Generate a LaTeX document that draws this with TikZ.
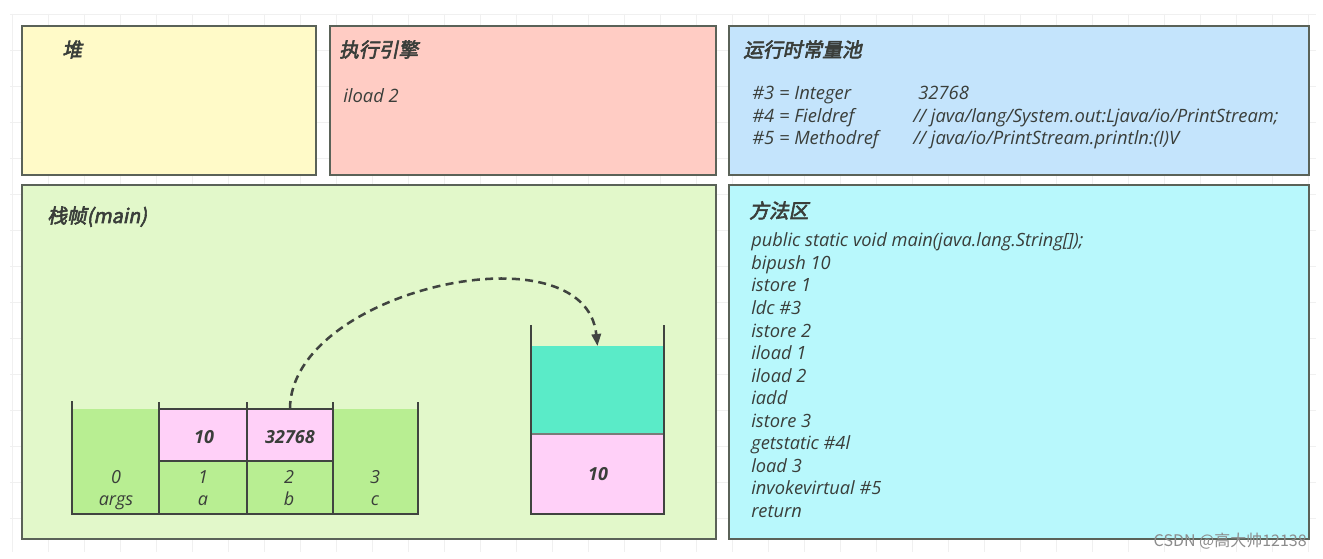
\documentclass[tikz,border=0pt]{standalone}
\usepackage{fontspec}
\setmainfont{Open Sans}
\newfontfamily\cjk[FakeSlant=0.2,FakeBold=3]{Noto Sans CJK SC}
\newfontfamily\wmfont{Noto Sans CJK SC}
\usetikzlibrary{arrows.meta}
\definecolor{heapc}{HTML}{FFFAC8}
\definecolor{engc}{HTML}{FFCCC4}
\definecolor{poolc}{HTML}{C4E4FC}
\definecolor{framec}{HTML}{E2F8CA}
\definecolor{methc}{HTML}{B8F8FC}
\definecolor{edgec}{HTML}{5A6258}
\definecolor{txtc}{HTML}{3A3E3A}
\definecolor{cellg}{HTML}{B8EE92}
\definecolor{cellp}{HTML}{FFD0F8}
\definecolor{teal}{HTML}{5AEBC8}
\definecolor{linec}{HTML}{404440}
\definecolor{gridc}{HTML}{F0F0F0}
\tikzset{
  area/.style={draw=edgec, line width=1.3pt, anchor=north west, inner sep=0, outer sep=0},
  title/.style={font=\cjk\fontsize{14.8}{17}\selectfont, text=txtc, anchor=base west, inner sep=0},
  txt/.style={font=\itshape\fontsize{13.8}{16}\selectfont, text=txtc, anchor=base west, inner sep=0},
  mtxt/.style={font=\itshape\fontsize{13.7}{16}\selectfont, text=txtc, anchor=base west, inner sep=0},
  ctxt/.style={font=\itshape\fontsize{13.5}{16}\selectfont, text=txtc, anchor=base, inner sep=0},
  btxt/.style={font=\bfseries\itshape\fontsize{13.5}{16}\selectfont, text=txtc, inner sep=0},
  cell/.style={anchor=north west, inner sep=0, outer sep=0},
  wall/.style={draw=linec, line width=1.5pt},
  flow/.style={draw=linec, line width=1.9pt, dash pattern=on 6pt off 4pt, -{Triangle[length=9pt,width=7pt]}},
}
\begin{document}
\begin{tikzpicture}[x=0.75pt,y=-0.75pt]
\useasboundingbox (0,0) rectangle (1323,559);
\fill[white] (0,0) rectangle (1323,559);
% faint grid
\foreach \gx in {12,48,...,1320} \draw[gridc, line width=0.4pt] (\gx,14) -- (\gx,552);
\foreach \gy in {14,50,...,552} \draw[gridc, line width=0.4pt] (10,\gy) -- (1316,\gy);

% areas
\node[area, fill=heapc, minimum width=294*0.75pt, minimum height=149*0.75pt] (heap) at (22,26) {};
\node[area, fill=engc, minimum width=386*0.75pt, minimum height=149*0.75pt] (engine) at (330,26) {};
\node[area, fill=poolc, minimum width=580*0.75pt, minimum height=149*0.75pt] (pool) at (729,26) {};
\node[area, fill=framec, minimum width=694*0.75pt, minimum height=354*0.75pt] (frame) at (22,185) {};
\node[area, fill=methc, minimum width=580*0.75pt, minimum height=354*0.75pt] (method) at (729,185) {};

% titles
\node[title] (theap) at (62,57) {堆};
\node[title] (teng) at (339,57) {执行引擎};
\node[title] (tpool) at (743,57) {运行时常量池};
\node[title] (tframe) at (47,223) {栈帧(main)};
\node[title] (tmeth) at (749,218) {方法区};

% engine content
\node[txt] (eng1) at (343,103) {iload 2};

% constant pool
\node[txt] (p1a) at (752,100) {\#3 = Integer};
\node[txt] (p1b) at (918,100) {32768};
\node[txt] (p2a) at (752,123) {\#4 = Fieldref};
\node[txt] (p2b) at (913,123) {// java/lang/System.out:Ljava/io/PrintStream;};
\node[txt] (p3a) at (752,145) {\#5 = Methodref};
\node[txt] (p3b) at (913,145) {// java/io/PrintStream.println:(I)V};

% method area code
\foreach \i/\t in {0/{public static void main(java.lang.String[]);},1/{bipush 10},2/{istore 1},3/{ldc \#3},4/{istore 2},5/{iload 1},6/{iload 2},7/{iadd},8/{istore 3},9/{getstatic \#4l},10/{load 3},11/{invokevirtual \#5},12/{return}}
  \node[mtxt] (m\i) at (751,247+22.5*\i) {\t};

% local variable table
\fill[cellg] (72,409) rectangle (418,514);
\node[cell, fill=cellp, minimum width=88*0.75pt, minimum height=52*0.75pt] (va) at (159,409) {};
\node[cell, fill=cellp, minimum width=86*0.75pt, minimum height=52*0.75pt] (vb) at (247,409) {};
\draw[linec, line width=0.9pt] (159,409) -- (333,409);
\draw[linec, line width=0.9pt] (159,461) -- (333,461);
\node[btxt] (v10) at (204,437) {10};
\node[btxt] (v32768) at (290,437) {32768};
\draw[wall] (72,401) -- (72,514) -- (418,514) -- (418,402);
\draw[wall] (159,402) -- (159,514);
\draw[wall] (247,402) -- (247,514);
\draw[wall] (333,402) -- (333,514);
\node[ctxt] (s0) at (116,483) {0};
\node[ctxt] (n0) at (116,505) {args};
\node[ctxt] (s1) at (203,483) {1};
\node[ctxt] (n1) at (203,505) {a};
\node[ctxt] (s2) at (289,483) {2};
\node[ctxt] (n2) at (289,505) {b};
\node[ctxt] (s3) at (375,483) {3};
\node[ctxt] (n3) at (375,505) {c};

% operand stack
\node[cell, fill=teal, minimum width=133*0.75pt, minimum height=88*0.75pt] (stop) at (531,346) {};
\node[cell, fill=cellp, minimum width=133*0.75pt, minimum height=80*0.75pt] (sbot) at (531,434) {};
\draw[linec!70, line width=1pt] (531,434) -- (664,434);
\node[btxt] (st10) at (598,474) {10};
\draw[wall] (531,325) -- (531,514) -- (664,514) -- (664,325);

% dashed arrow
\draw[flow] (vb.north) .. controls (290,290) and (585,225) .. (stop.north);

% watermark
\node[font=\wmfont\fontsize{12}{14}\selectfont, text=black!45, anchor=east, inner sep=0] (wm) at (1307,541) {CSDN @高大帅12138};
\end{tikzpicture}
\end{document}
